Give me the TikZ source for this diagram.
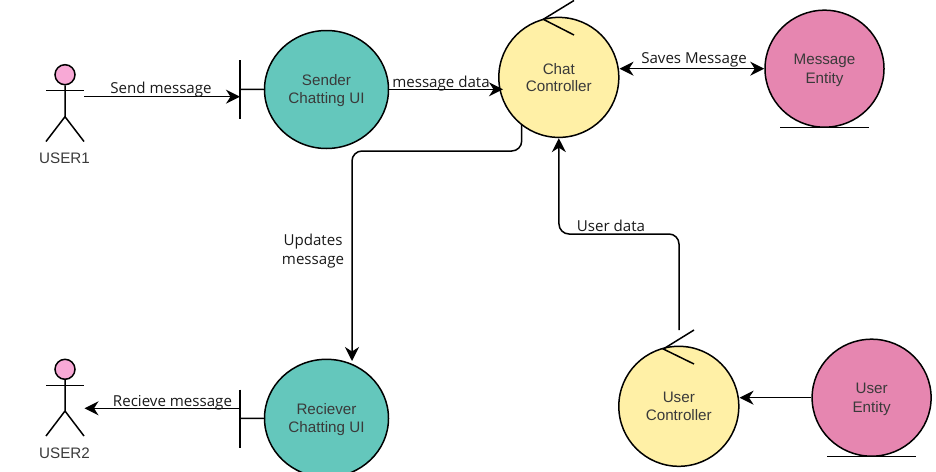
\documentclass[tikz,border=0pt]{standalone}
\usepackage{fontspec}
\setmainfont{Liberation Sans}
\newfontfamily\edgefont{Open Sans}
\usetikzlibrary{arrows.meta,shapes.geometric}
\definecolor{teal1}{HTML}{64C7BC}
\definecolor{yellow1}{HTML}{FFF0A6}
\definecolor{pink1}{HTML}{E686B0}
\definecolor{head1}{HTML}{F8A9D6}
\definecolor{ink}{HTML}{3A3A3A}
\newcommand{\topgap}{\rule{0pt}{13pt}}
\tikzset{
  x=1pt,y=-1pt,
  every path/.style={line width=1.5pt},
  bubble/.style={draw=black,ellipse,inner sep=0pt,align=center,text=ink},
  uibubble/.style={bubble,fill=teal1,minimum width=124pt,minimum height=118pt,font=\fontsize{15.2}{18.2}\selectfont},
  ctrlbubble/.style={bubble,fill=yellow1,minimum width=120pt,minimum height=120pt,font=\fontsize{15.2}{17.2}\selectfont},
  entbubble/.style={bubble,fill=pink1,minimum width=119pt,minimum height=117pt,font=\fontsize{15.2}{19}\selectfont},
  headdot/.style={draw=black,circle,fill=head1,minimum size=20pt,inner sep=0pt},
  actorname/.style={text=ink,font=\fontsize{15.2}{17}\selectfont},
  lbl/.style={text=black!90,align=center,inner sep=0pt,font=\edgefont\fontsize{15.1}{18.5}\selectfont},
  arr/.style={-{Stealth[length=14pt,width=14pt,inset=4.5pt]}},
  biarr/.style={{Stealth[length=14pt,width=14pt,inset=4.5pt]}-{Stealth[length=14pt,width=14pt,inset=4.5pt]}},
}
\begin{document}
\begin{tikzpicture}
\useasboundingbox (0,0) rectangle (936,471);
% bubbles
\node[uibubble] (sender) at (326.5,89.5) {\topgap Sender\\Chatting UI};
\node[uibubble] (recv) at (326.5,418.3) {\topgap Reciever\\Chatting UI};
\node[ctrlbubble] (chat) at (558.8,77.4) {Chat\\Controller};
\node[ctrlbubble] (uctrl) at (678.8,406.3) {User\\Controller};
\node[entbubble] (msg) at (824.5,68.7) {\topgap Message\\Entity};
\node[entbubble] (uent) at (871.6,397.7) {\topgap User\\Entity};
% boundary marks
\coordinate (sbar) at (240,89.3);
\coordinate (rbar) at (240,418.5);
\draw (240,60) -- (240,118.5);
\draw (sbar) -- (sender.west);
\draw (240,389.5) -- (240,447.5);
\draw (rbar) -- (recv.west);
% controller ticks
\coordinate (ct) at (543.3,19.3);
\coordinate (ut) at (663.3,349);
\draw (574,0.5) -- (ct) -- (574,35);
\draw (694,330) -- (ut) -- (694,364);
% entity underlines
\draw (780,127.5) -- (869,127.5);
\draw (827,456.5) -- (916,456.5);
% actors
\node[headdot] (h1) at (65,74.7) {};
\draw (h1.south) -- (65,116.7) -- (46,141.5);
\draw (65,116.7) -- (84,141.5);
\draw (46,90.3) -- (84,90.3);
\node[actorname] (u1) at (64.5,158.5) {USER1};
\node[headdot] (h2) at (65,369.3) {};
\draw (h2.south) -- (65,411) -- (46,436);
\draw (65,411) -- (84,436);
\draw (46,385.3) -- (84,385.3);
\node[actorname] (u2) at (64.5,453.5) {USER2};
% connectors
\coordinate (a1) at (84,96.7);
\coordinate (b1) at (240,96.7);
\coordinate (a2) at (84.5,408.3);
\coordinate (b2) at (240,408.3);
\coordinate (c1) at (503,89.3);
\coordinate (c2) at (521.7,125);
\coordinate (c3) at (352,361);
\coordinate (c4) at (679,330);
\draw[arr] (a1) -- (b1);
\draw[arr] (b2) -- (a2);
\draw[arr] (sender.east |- c1) -- (c1);
\draw[biarr] (chat.east |- msg.west) -- (msg.west);
\draw[arr,rounded corners=10pt] (c2) -- (521.7,151) -- (352,151) -- (c3);
\draw[arr,rounded corners=10pt] (c4) -- (679,234) -- (559,234) -- (chat.south);
\draw[arr] (uent.west) -- (uctrl.east |- uent.west);
% labels
\node[lbl] (l1) at (161,89.2) {Send message};
\node[lbl] (l2) at (441,83.3) {message data};
\node[lbl] (l3) at (694,60.3) {Saves Message};
\node[lbl] (l4) at (313,251) {Updates\\message};
\node[lbl] (l5) at (611,226) {User data};
\node[lbl] (l6) at (172.5,402.3) {Recieve message};
\end{tikzpicture}
\end{document}
